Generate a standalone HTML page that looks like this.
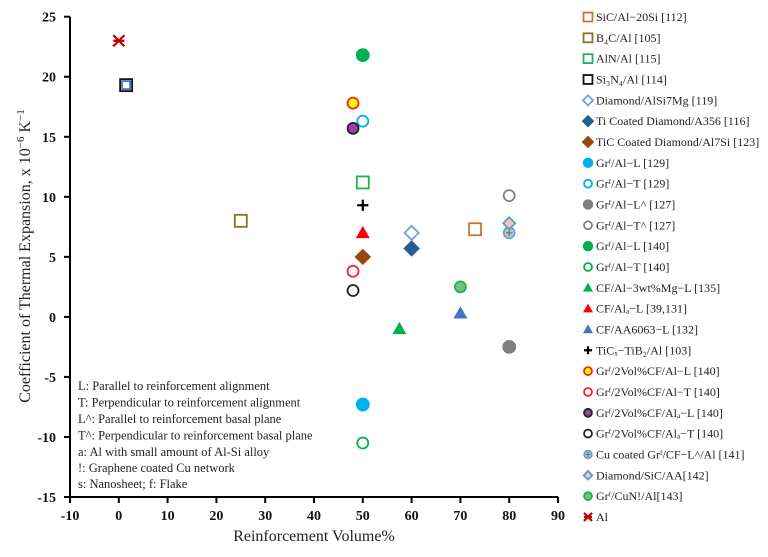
<!DOCTYPE html>
<html><head><meta charset="utf-8"><style>
body{margin:0;background:#fff;}
svg{display:block;font-family:"Liberation Serif",serif;}
</style></head><body>
<svg id="chart" width="768" height="557" viewBox="0 0 768 557">
<g id="axes"></g><g id="marks"></g><g id="legend"></g>
<g font-size="12.5" fill="#222">
<text x="78" y="390">L: Parallel to reinforcement alignment</text>
<text x="78" y="406.5">T: Perpendicular to reinforcement alignment</text>
<text x="78" y="423">L^: Parallel to reinforcement basal plane</text>
<text x="78" y="439.5">T^: Perpendicular to reinforcement basal plane</text>
<text x="78" y="456">a: Al with small amount of Al-Si alloy</text>
<text x="78" y="472">!: Graphene coated Cu network</text>
<text x="78" y="488">s: Nanosheet; f: Flake</text>
</g>
<text x="314" y="541" text-anchor="middle" font-size="16" fill="#222">Reinforcement Volume%</text>
<text transform="translate(30,256) rotate(-90)" text-anchor="middle" font-size="16" fill="#222">Coefficient of Thermal Expansion, x 10<tspan font-size="11" dy="-6">−6</tspan><tspan dy="6"> K</tspan><tspan font-size="11" dy="-6">−1</tspan></text>
</svg>
<script>
const xTicks=[-10,0,10,20,30,40,50,60,70,80,90];
const yTicks=[-15,-10,-5,0,5,10,15,20,25];
const seriesNames=["SiC/Al−20Si [112]","B₄C/Al [105]","AlN/Al [115]","Si₃N₄/Al [114]","SiC/Al [101]","Diamond/AlSi7Mg [119]","Ti Coated Diamond/A356 [116]","TiC Coated Diamond/Al7Si [123]","Grᶠ/Al−L [129]","Grᶠ/Al−T [129]","Grᶠ/Al−L^ [127]","Grᶠ/Al−T^ [127]","Grᶠ/Al−L [140]","Grᶠ/Al−T [140]","CF/Al−3wt%Mg−L [135]","CF/Alₐ−L [39,131]","CF/AA6063−L [132]","TiCₓ−TiB₂/Al [103]","Grᶠ/2Vol%CF/Al−L [140]","Grᶠ/2Vol%CF/Al−T [140]","Grᶠ/2Vol%CF/Alₐ−L [140]","Grᶠ/2Vol%CF/Alₐ−T [140]","Cu coated Grᶠ/CF−L^/Al [141]","Diamond/SiC/AA[142]","Grᶠ/CuN!/Al[143]","Al"];
const xValues=[73,25,50,1.5,1.5,60,60,50,50,50,80,80,50,50,57.5,50,70,50,48,48,48,48,80,80,70,0];
const yValues=[7.3,8,11.2,19.3,19.3,7,5.7,5,-7.3,16.3,-2.5,10.1,21.8,-10.5,-1,7,0.3,9.3,17.8,3.8,15.7,2.2,7,7.8,2.5,23];
const styles=[
["sq","none","#d07030",11],["sq","none","#8a7420",11],["sq","none","#20b050",11],["sq","none","#111",11],["sq","none","#4472c4",7],
["dm","none","#6fa0e0",7],["dm","#255e91","#255e91",7],["dm","#99460f","#99460f",7],
["ci","#00b0f0","#00b0f0",6],["ci","none","#00b0f0",5.5],["ci","#808080","#808080",6],["ci","none","#808080",5.5],
["ci","#00b050","#00b050",6],["ci","none","#00b050",5.5],
["tr","#00b050","#00b050",7],["tr","#ff0000","#ff0000",7],["tr","#4472c4","#4472c4",7],
["pl","none","#000",7],["ci","#ffff00","#ff2020",5.5],["ci","none","#ff2020",5.5],["ci","#a040a0","#222",5.5],["ci","none","#222",5.5],
["cu","#a8c8e8","#5b9bd5",5.5],["dm","#f4c7b0","#5b9bd5",6],["ci","#70c080","#20b050",5.5],["as","none","#c00000",7]];
const NS="http://www.w3.org/2000/svg";
function xs(v){return 70+(v+10)*4.88;}
function ys(v){return 497-(v+15)*12.0075;}
function mk(t,a){const e=document.createElementNS(NS,t);for(const k in a)e.setAttribute(k,a[k]);return e;}
const axes=document.getElementById('axes');
axes.appendChild(mk('line',{x1:70,y1:ys(25),x2:70,y2:497,stroke:'#000','stroke-width':2}));
axes.appendChild(mk('line',{x1:69,y1:497,x2:xs(90),y2:497,stroke:'#000','stroke-width':2}));
yTicks.forEach(v=>{axes.appendChild(mk('line',{x1:64,x2:70,y1:ys(v),y2:ys(v),stroke:'#000','stroke-width':2}));
const t=mk('text',{x:56,y:ys(v)+5,'text-anchor':'end','font-size':14,'font-weight':'bold',fill:'#111'});t.textContent=v;


axes.appendChild(t);});
xTicks.forEach(v=>{axes.appendChild(mk('line',{x1:xs(v),x2:xs(v),y1:497,y2:503,stroke:'#000','stroke-width':2}));
const t=mk('text',{x:xs(v),y:520,'text-anchor':'middle','font-size':14,'font-weight':'bold',fill:'#111'});t.textContent=v;


axes.appendChild(t);});
function marker(g,s,x,y,scale){const [k,f,c,r0]=s;const r=r0*scale;
if(k==='sq'){g.appendChild(mk('rect',{x:x-r/2-0.5,y:y-r/2-0.5,width:r+1,height:r+1,fill:f==='none'?'#fff':f,'fill-opacity':f==='none'?0:1,stroke:c,'stroke-width':1.8}));}
else if(k==='dm'){g.appendChild(mk('polygon',{points:`${x},${y-r} ${x+r},${y} ${x},${y+r} ${x-r},${y}`,fill:f,stroke:c,'stroke-width':1.8}));}
else if(k==='ci'){g.appendChild(mk('circle',{cx:x,cy:y,r:r,fill:f,stroke:c,'stroke-width':1.8}));}
else if(k==='cu'){g.appendChild(mk('circle',{cx:x,cy:y,r:r,fill:f,stroke:c,'stroke-width':1.5}));g.appendChild(mk('path',{d:`M${x-r*0.6},${y}H${x+r*0.6}M${x},${y-r*0.6}V${y+r*0.6}`,stroke:'#8a7420','stroke-width':1.2}));}
else if(k==='tr'){g.appendChild(mk('polygon',{points:`${x},${y-r} ${x+r},${y+r*0.75} ${x-r},${y+r*0.75}`,fill:f}));}
else if(k==='pl'){g.appendChild(mk('path',{d:`M${x-r*0.8},${y}H${x+r*0.8}M${x},${y-r*0.8}V${y+r*0.8}`,stroke:c,'stroke-width':2.2}));}
else if(k==='as'){g.appendChild(mk('path',{d:`M${x-r*0.8},${y-r*0.8}L${x+r*0.8},${y+r*0.8}M${x-r*0.8},${y+r*0.8}L${x+r*0.8},${y-r*0.8}M${x-r*0.8},${y}H${x+r*0.8}`,stroke:c,'stroke-width':2.2}));}}
const marks=document.getElementById('marks');
xValues.forEach((v,i)=>{const g=mk('g',{});


marker(g,styles[i],xs(v),ys(yValues[i]),1);marks.appendChild(g);});
const leg=document.getElementById('legend');
const rows=[0,1,2,3,4,5,6,7,8,9,10,11,12,13,14,15,16,17,18,19,20,21,22,23,24,25];
rows.forEach((i,j)=>{if(i===4)return;const idx=j>4?j-1:j;const y=17+idx*20.83;const g=mk('g',{});


marker(g,styles[i],588,y,0.72);const t=mk('text',{x:596,y:y+4,'font-size':12,fill:'#222'});t.textContent=seriesNames[i];g.appendChild(t);leg.appendChild(g);});
</script>
</body></html>
